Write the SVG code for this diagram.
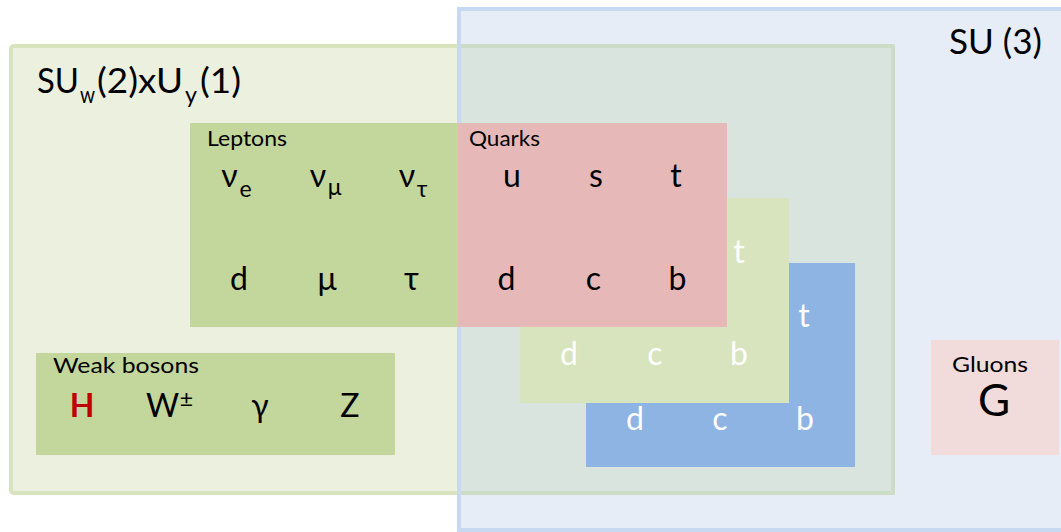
<svg xmlns="http://www.w3.org/2000/svg" width="1061" height="532" viewBox="0 0 1061 532">
  <style>
    text { font-family: Lato, "Noto Sans", "DejaVu Sans", sans-serif; fill: #000; }
    .sym { font-size: 32px; text-anchor: middle; }
    .sub { font-size: 23px; text-anchor: middle; }
    .wsym { font-size: 32px; text-anchor: middle; fill: #fff; }
    .label { font-size: 21px; }
    .title { font-size: 35px; }
    .tsub { font-size: 23px; }
  </style>

  <!-- electroweak group region -->
  <g id="ewk-group">
    <rect x="11" y="46" width="882" height="447" rx="3" fill="#EBF0DF" stroke="#D7E4BD" stroke-width="4"/>
  </g>

  <!-- strong group region -->
  <g id="strong-group">
    <rect x="459" y="9" width="610" height="521" fill="#E6EDF6"/>
    <rect x="459" y="46" width="434" height="447" fill="#DAE4DE"/>
    <path d="M459,46 H893 V493 H459" fill="none" stroke="#CCDCC6" stroke-width="4" stroke-linejoin="round"/>
    <rect x="459" y="9" width="610" height="521" fill="none" stroke="#C6D9F0" stroke-width="4"/>
    <text class="title" x="949" y="54" textLength="93" lengthAdjust="spacingAndGlyphs">SU (3)</text>
  </g>

  <g id="ewk-title">
    <text class="title" x="37" y="93" textLength="42" lengthAdjust="spacingAndGlyphs">SU</text>
    <text class="tsub" x="80" y="103" textLength="15" lengthAdjust="spacingAndGlyphs">w</text>
    <text class="title" x="97" y="93" textLength="86" lengthAdjust="spacingAndGlyphs">(2)xU</text>
    <text class="tsub" x="185" y="103" textLength="12" lengthAdjust="spacingAndGlyphs">y</text>
    <text class="title" x="200" y="93" textLength="41" lengthAdjust="spacingAndGlyphs">(1)</text>
  </g>

  <!-- leptons -->
  <g id="leptons">
    <rect x="190" y="123" width="268" height="204" fill="#C3D69B"/>
    <text class="label" x="207" y="146" textLength="80" lengthAdjust="spacingAndGlyphs">Leptons</text>
    <text class="sym" x="229.5" y="187">ν</text><text class="sub" x="245.5" y="197">e</text>
    <text class="sym" x="318" y="187">ν</text><text class="sub" x="334.5" y="195">μ</text>
    <text class="sym" x="407" y="187">ν</text><text class="sub" x="422" y="197">τ</text>
    <text class="sym" x="239" y="290">d</text>
    <text class="sym" x="327" y="290">μ</text>
    <text class="sym" x="411.5" y="290">τ</text>
  </g>

  <!-- third colour copy of the quark block -->
  <g id="quarks-blue">
    <rect x="586" y="263" width="269" height="204" fill="#8EB4E3"/>
    <text class="wsym" x="804" y="327">t</text>
    <text class="wsym" x="635" y="430">d</text>
    <text class="wsym" x="720" y="430">c</text>
    <text class="wsym" x="805" y="430">b</text>
  </g>

  <!-- second colour copy of the quark block -->
  <g id="quarks-green">
    <rect x="520" y="198" width="269" height="205" fill="#D7E4BD"/>
    <text class="wsym" x="739" y="263">t</text>
    <text class="wsym" x="569" y="365">d</text>
    <text class="wsym" x="655" y="365">c</text>
    <text class="wsym" x="739" y="365">b</text>
  </g>

  <!-- quarks -->
  <g id="quarks">
    <rect x="458" y="123" width="269" height="204" fill="#E6B9B8"/>
    <text class="label" x="469" y="146" textLength="71" lengthAdjust="spacingAndGlyphs">Quarks</text>
    <text class="sym" x="512" y="187">u</text>
    <text class="sym" x="596" y="187">s</text>
    <text class="sym" x="676" y="187">t</text>
    <text class="sym" x="506.5" y="290">d</text>
    <text class="sym" x="593.5" y="290">c</text>
    <text class="sym" x="677.5" y="290">b</text>
  </g>

  <!-- weak bosons -->
  <g id="weak-bosons">
    <rect x="36" y="353" width="359" height="102" fill="#C3D69B"/>
    <text class="label" x="53" y="373" textLength="146" lengthAdjust="spacingAndGlyphs">Weak bosons</text>
    <text class="sym" x="82" y="417" style="fill:#C00000;font-weight:bold">H</text>
    <text class="sym" x="162.5" y="417">W</text>
    <text class="sub" x="186.5" y="407">±</text>
    <text class="sym" x="260" y="417">γ</text>
    <text class="sym" x="350" y="417">Z</text>
  </g>

  <!-- gluons -->
  <g id="gluons">
    <rect x="931" y="340" width="128" height="115" fill="#F2DCDB"/>
    <text class="label" x="952" y="372" textLength="76" lengthAdjust="spacingAndGlyphs">Gluons</text>
    <text class="sym" x="994" y="416" style="font-size:44px">G</text>
  </g>
</svg>
